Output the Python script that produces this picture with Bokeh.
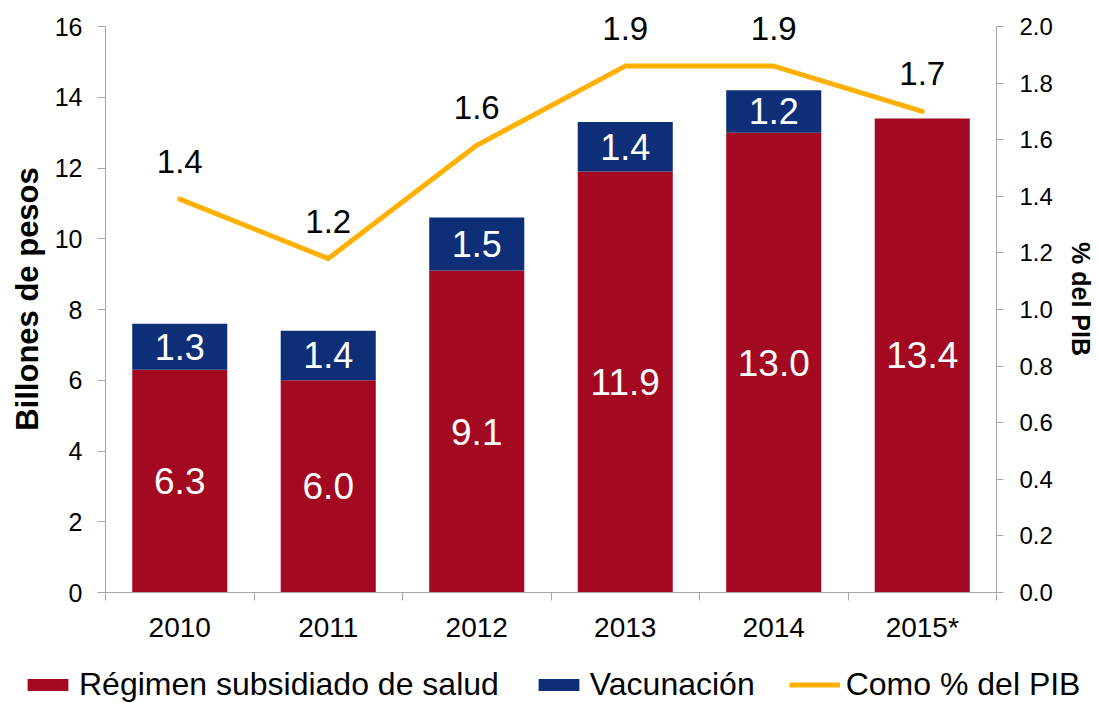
from bokeh.plotting import figure
from bokeh.layouts import column
from bokeh.models import (Range1d, LinearAxis, FixedTicker, ColumnDataSource,
                          Legend, LegendItem, LabelSet, NumeralTickFormatter)
from bokeh.core.properties import value
from bokeh.embed import file_html
from bokeh.resources import INLINE

years = ["2010", "2011", "2012", "2013", "2014", "2015*"]
regimen = [6.3, 6.0, 9.1, 11.9, 13.0, 13.4]
vacunacion = [1.3, 1.4, 1.5, 1.4, 1.2, 0.0]
pib = [1.39, 1.18, 1.58, 1.86, 1.86, 1.70]
legend_labels = ["Régimen subsidiado de salud", "Vacunación", "Como % del PIB"]

RED = "#A30A21"
BLUE = "#0E2F77"
ORANGE = "#FFB000"
AXIS = "#A6A6A6"
FONT = "Liberation Sans"

# layout constants (pixels)
TOP_BORDER = 5
AXIS_TOP_PX = 26          # where the 16 / 2.0 ticks sit
FRAME_BOTTOM_PX = 592
YMAX_L, YMAX_R = 16, 2.0
frame_h = FRAME_BOTTOM_PX - TOP_BORDER
ytop_l = YMAX_L * frame_h / (FRAME_BOTTOM_PX - AXIS_TOP_PX)
ytop_r = YMAX_R * ytop_l / YMAX_L

xs = [i + 1 for i in range(len(years))]
tops = [r + v for r, v in zip(regimen, vacunacion)]

src = ColumnDataSource(dict(
    x=xs, reg=regimen, vac=vacunacion, top=tops,
    reg_mid=[r / 2 for r in regimen],
    reg_lbl=["%.1f" % r for r in regimen],
    pib=pib, pib_lbl=["%.1f" % v for v in pib],
))
vac_idx = [i for i, v in enumerate(vacunacion) if v > 0]
src_vac = ColumnDataSource(dict(
    x=[xs[i] for i in vac_idx],
    mid=[regimen[i] + vacunacion[i] / 2 for i in vac_idx],
    lbl=["%.1f" % vacunacion[i] for i in vac_idx],
))

p = figure(width=1097, height=650, output_backend="svg", toolbar_location=None,
           x_range=Range1d(0.5, len(years) + 0.5), y_range=Range1d(0, ytop_l),
           min_border_left=105, min_border_right=99, min_border_top=TOP_BORDER,
           min_border_bottom=58)
p.frame_align = False
p.outline_line_color = None
p.xgrid.visible = False
p.ygrid.visible = False
p.background_fill_color = "white"
p.border_fill_color = "white"

p.extra_y_ranges = {"pib": Range1d(0, ytop_r)}

r_reg = p.vbar(x="x", bottom=0, top="reg", width=0.64, fill_color=RED,
               line_color=None, source=src)
r_vac = p.vbar(x="x", bottom="reg", top="top", width=0.64, fill_color=BLUE,
               line_color=None, source=src)
r_line = p.line(x="x", y="pib", y_range_name="pib", line_color=ORANGE,
                line_width=5, line_join="round", line_cap="round", source=src)

# x axis
xa = p.xaxis[0]
xa.ticker = FixedTicker(ticks=xs, minor_ticks=[x - 0.5 for x in xs] + [xs[-1] + 0.5])
xa.major_label_overrides = {x: y for x, y in zip(xs, years)}
xa.major_tick_line_color = None
xa.major_tick_out = 8
xa.major_tick_in = 0
xa.minor_tick_line_color = AXIS
xa.minor_tick_out = 8
xa.minor_tick_in = 0
xa.axis_line_color = AXIS
xa.major_label_text_font = FONT
xa.major_label_text_font_size = "28px"
xa.major_label_text_color = "black"
xa.major_label_standoff = 11

# left axis
ya = p.yaxis[0]
ya.ticker = FixedTicker(ticks=list(range(0, 17, 2)))
ya.bounds = (0, YMAX_L)
ya.axis_line_color = AXIS
ya.major_tick_line_color = AXIS
ya.major_tick_out = 8
ya.major_tick_in = 0
ya.minor_tick_line_color = None
ya.major_label_text_font = FONT
ya.major_label_text_font_size = "25px"
ya.major_label_text_color = "black"
ya.major_label_standoff = 15
ya.axis_label = "Billones de pesos"
ya.axis_label_text_font = FONT
ya.axis_label_text_font_size = "31px"
ya.axis_label_text_font_style = "bold"
ya.axis_label_text_color = "black"
ya.axis_label_standoff = 7

# right axis
ra = LinearAxis(y_range_name="pib",
                ticker=FixedTicker(ticks=[i / 5 for i in range(11)]),
                formatter=NumeralTickFormatter(format="0.0"),
                bounds=(0, YMAX_R))
ra.axis_line_color = AXIS
ra.major_tick_line_color = AXIS
ra.major_tick_out = 7
ra.major_tick_in = 0
ra.minor_tick_line_color = None
ra.major_label_text_font = FONT
ra.major_label_text_font_size = "24px"
ra.major_label_text_color = "black"
ra.major_label_standoff = 16
ra.axis_label = "% del PIB"
ra.axis_label_text_font = FONT
ra.axis_label_text_font_size = "25px"
ra.axis_label_text_font_style = "bold"
ra.axis_label_text_color = "black"
ra.axis_label_standoff = 11
p.add_layout(ra, "right")

# bar labels
p.add_layout(LabelSet(x="x", y="reg_mid", text="reg_lbl", source=src,
                      text_align="center", text_baseline="middle",
                      text_color="white", text_font=value(FONT),
                      text_font_size="37px"))
p.add_layout(LabelSet(x="x", y="mid", text="lbl", source=src_vac,
                      text_align="center", text_baseline="middle",
                      text_color="white", text_font=value(FONT),
                      text_font_size="36px"))
# line labels
p.add_layout(LabelSet(x="x", y="pib", text="pib_lbl", source=src, y_range_name="pib",
                      text_align="center", text_baseline="alphabetic",
                      y_offset=26, text_color="black", text_font=value(FONT),
                      text_font_size="33px"))

# legend strip below the chart (its renderers reuse the data, out of view)
lf = figure(width=1097, height=53, output_backend="svg", toolbar_location=None,
            x_range=Range1d(-3, -2), y_range=Range1d(0, 1),
            x_axis_type=None, y_axis_type=None, min_border=0)
lf.frame_align = False
lf.outline_line_color = None
lf.xgrid.visible = False
lf.ygrid.visible = False
l_reg = lf.vbar(x="x", top="reg", width=0.64, fill_color=RED, line_color=None, source=src)
l_vac = lf.vbar(x="x", bottom="reg", top="top", width=0.64, fill_color=BLUE,
                line_color=None, source=src)
l_line = lf.line(x="x", y="pib", line_color=ORANGE, line_width=5, source=src)

legend = Legend(items=[
    LegendItem(label=legend_labels[0], renderers=[l_reg]),
    LegendItem(label=legend_labels[1], renderers=[l_vac]),
    LegendItem(label=legend_labels[2], renderers=[l_line]),
], location=(22, 0), orientation="horizontal")
legend.label_text_font = FONT
legend.label_text_font_size = "32px"
legend.label_text_color = "black"
legend.glyph_width = 51
legend.glyph_height = 15
legend.label_standoff = 6
legend.spacing = 34
legend.padding = 0
legend.margin = 0
legend.border_line_color = None
legend.background_fill_alpha = 0
lf.add_layout(legend)

layout = column(p, lf, spacing=0)
open("out.html", "w").write(file_html(layout, INLINE))
